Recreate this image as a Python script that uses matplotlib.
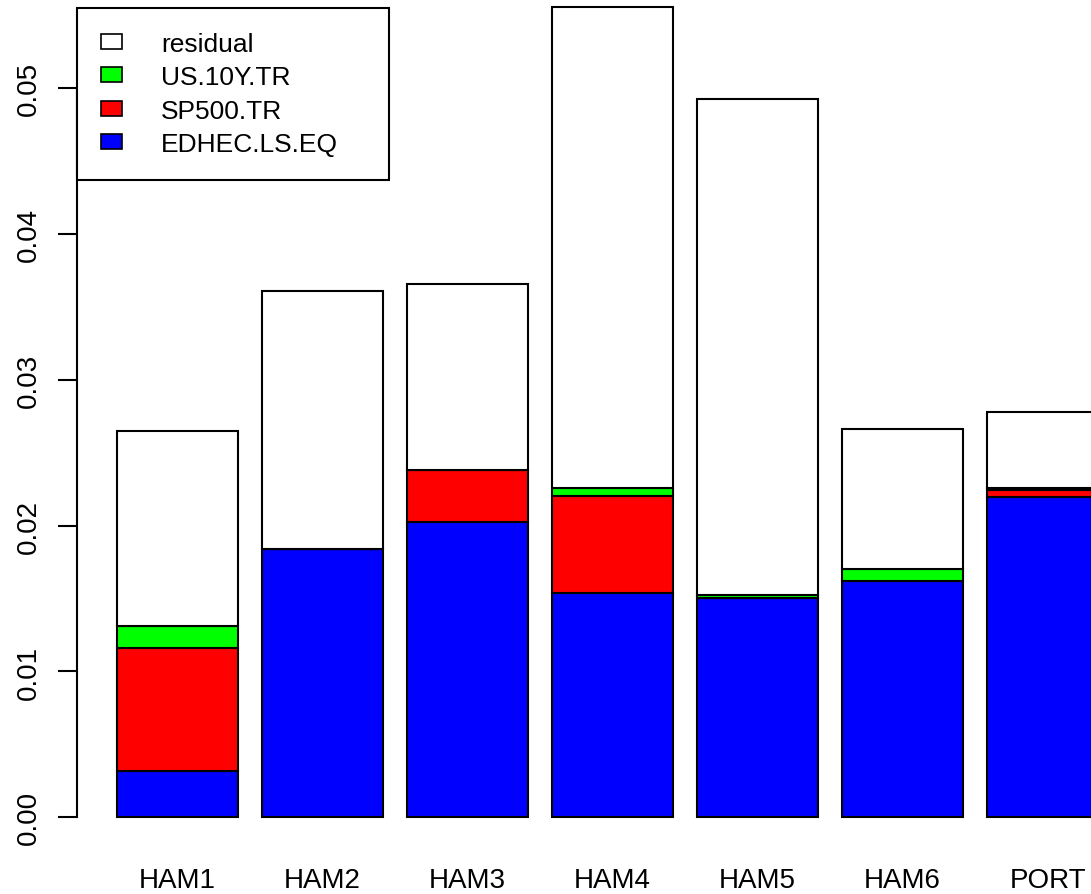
import numpy as np
import matplotlib.pyplot as plt
from matplotlib.patches import Patch

plt.rcParams['font.family'] = ['Liberation Sans', 'DejaVu Sans']

# risk contribution per fund, split by factor
funds = ['HAM1', 'HAM2', 'HAM3', 'HAM4', 'HAM5', 'HAM6', 'PORT']
edhec_ls_eq = [0.00316, 0.01840, 0.02027, 0.01538, 0.01502, 0.01619, 0.02195]
sp500_tr = [0.00843, 0.00000, 0.00355, 0.00667, 0.00000, 0.00000, 0.00052]
us_10y_tr = [0.00151, 0.00000, 0.00000, 0.00051, 0.00023, 0.00084, 0.00010]
residual = [0.01342, 0.01772, 0.01276, 0.03302, 0.03402, 0.00960, 0.00525]

series = [('EDHEC.LS.EQ', edhec_ls_eq, '#0000ff'),
          ('SP500.TR', sp500_tr, '#ff0000'),
          ('US.10Y.TR', us_10y_tr, '#00ff00'),
          ('residual', residual, '#ffffff')]

fig = plt.figure(figsize=(10.91, 8.95), dpi=100)
ax = fig.add_axes([0.0706, 0.0857, 0.9294, 0.9143])

x = np.arange(len(funds))
bottom = np.zeros(len(funds))
for name, vals, col in series:
    vals = np.array(vals)
    ax.bar(x, vals, width=0.834, bottom=bottom, color=col,
           edgecolor='black', linewidth=1.5, clip_on=False)
    bottom += vals

ax.set_xlim(-0.6906, 6.298)
ax.set_ylim(0, 0.05612)

for s in ['top', 'right', 'bottom']:
    ax.spines[s].set_visible(False)
ax.spines['left'].set_bounds(0, 0.05)
ax.spines['left'].set_linewidth(1.5)

yt = [0.00, 0.01, 0.02, 0.03, 0.04, 0.05]
ax.set_yticks(yt)
ax.set_yticklabels(['%.2f' % v for v in yt], rotation=90, va='center', fontsize=20)
ax.tick_params(axis='y', length=14, width=1.5, pad=11)
ax.set_xticks(x)
ax.set_xticklabels(funds, fontsize=20)
ax.tick_params(axis='x', length=0, pad=36)

handles = [Patch(facecolor=col, edgecolor='black', linewidth=1.2, label=name)
           for name, vals, col in series[::-1]]
leg = ax.legend(handles=handles, loc='upper left', bbox_to_anchor=(0, 0.989, 0.3077, 0.0),
                mode='expand', borderaxespad=0, fontsize=19, fancybox=False,
                edgecolor='black', framealpha=1, borderpad=0.9,
                handlelength=0.82, handleheight=0.5, handletextpad=1.47,
                labelspacing=0.36)
leg.get_frame().set_linewidth(1.5)

fig.savefig('out.png', dpi=100)
